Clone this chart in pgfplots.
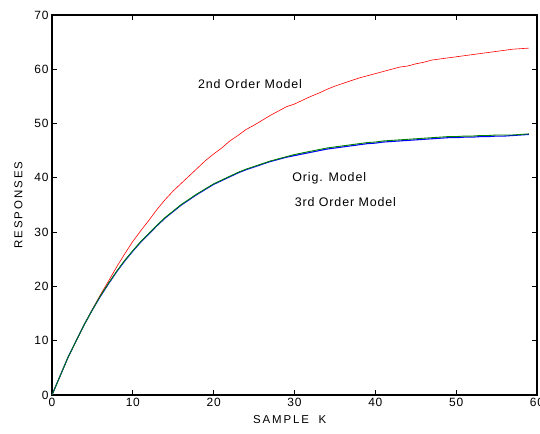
\documentclass[border=0pt]{standalone}
\usepackage{fontspec}
\setmainfont{Liberation Sans}
\newfontfamily\spaced[LetterSpace=7]{Liberation Sans}
\usepackage{pgfplots}
\pgfplotsset{compat=1.18}
\begin{document}
\begin{tikzpicture}
\path[use as bounding box] (-52bp,-39bp) rectangle (488bp,395bp);
\begin{axis}[
  at={(0,0)}, anchor=south west,
  scale only axis, width=485bp, height=380bp,
  xmin=0, xmax=60, ymin=0, ymax=70,
  xtick={0,10,...,60}, ytick={0,10,...,70},
  tick align=inside, major tick length=5bp,
  axis line style={line width=1.4pt},
  tick style={line width=0.8pt, black},
  tick label style={font=\fontsize{12}{14}\selectfont\spaced},
  /pgf/number format/assume math mode=true,
  xlabel={S\,A\,M\,P\,L\,E\ \ \ K}, ylabel={R\,E\,S\,P\,O\,N\,S\,E\,S},
  label style={font=\fontsize{11.5}{13}\selectfont},
  xlabel style={at={(axis description cs:0.49,0)}, anchor=north, yshift=-17bp},
  ylabel style={at={(axis description cs:0,0.5)}, anchor=south, xshift=0bp, yshift=26bp},
  clip=false,
]
\addplot[red, line width=0.6pt] coordinates {
(0,0)(1,3.5)(2,7)(3,10)(4,13)(5,15.8)(6,18.5)(7,21)(8,23.6)(9,26)(10,28.3)
(11,30.3)(12,32.2)(13,34.2)(14,36)(15,37.6)(16,39)(17,40.4)(18,41.8)(19,43.2)(20,44.4)
(21,45.5)(22,46.8)(23,47.8)(24,48.9)(25,49.7)(26,50.6)(27,51.5)(28,52.3)(29,53.1)(30,53.6)
(31,54.3)(32,55)(33,55.6)(34,56.3)(35,56.9)(36,57.4)(37,57.9)(38,58.4)(39,58.8)(40,59.2)
(41,59.6)(42,60)(43,60.4)(44,60.6)(45,61)(46,61.3)(47,61.7)(48,61.9)(49,62.1)(50,62.3)
(51,62.5)(52,62.7)(53,62.9)(54,63.1)(55,63.3)(56,63.5)(57,63.7)(58,63.8)(59,63.9)};
\addplot[blue, line width=1.1pt] coordinates {
(0,0)(1,3.5)(2,7)(3,10)(4,13)(5,15.7)(6,18.2)(7,20.5)(8,22.7)(9,24.7)(10,26.5)
(11,28.2)(12,29.7)(13,31.2)(14,32.6)(15,33.8)(16,35)(17,36)(18,37)(19,37.9)(20,38.8)
(21,39.5)(22,40.2)(23,40.9)(24,41.5)(25,42)(26,42.5)(27,43)(28,43.4)(29,43.8)(30,44.1)
(31,44.4)(32,44.7)(33,45)(34,45.3)(35,45.5)(36,45.7)(37,45.9)(38,46.1)(39,46.3)(40,46.4)
(41,46.6)(42,46.7)(43,46.8)(44,46.9)(45,47)(46,47.1)(47,47.2)(48,47.3)(49,47.4)(50,47.4)
(51,47.5)(52,47.5)(53,47.6)(54,47.6)(55,47.7)(56,47.7)(57,47.8)(58,47.9)(59,48)};
\addplot[green!50!black, line width=0.9pt] coordinates {
(0,0)(1,3.5)(2,7)(3,10)(4,13)(5,15.7)(6,18.3)(7,20.6)(8,22.8)(9,24.8)(10,26.6)
(11,28.3)(12,29.8)(13,31.3)(14,32.7)(15,33.9)(16,35.1)(17,36.1)(18,37.1)(19,38)(20,38.9)
(21,39.6)(22,40.3)(23,41)(24,41.6)(25,42.1)(26,42.6)(27,43.1)(28,43.5)(29,43.9)(30,44.3)
(31,44.6)(32,44.9)(33,45.2)(34,45.5)(35,45.7)(36,45.9)(37,46.1)(38,46.3)(39,46.5)(40,46.6)
(41,46.8)(42,46.9)(43,47)(44,47.1)(45,47.2)(46,47.3)(47,47.4)(48,47.5)(49,47.6)(50,47.6)
(51,47.7)(52,47.7)(53,47.8)(54,47.8)(55,47.9)(56,47.9)(57,47.9)(58,48)(59,48.1)};
\node[font=\fontsize{12.5}{14}\selectfont\spaced] at (axis cs:24.5,57.2) {2nd Order Model};
\node[font=\fontsize{12.5}{14}\selectfont\spaced] at (axis cs:34.3,40) {Orig. Model};
\node[font=\fontsize{12.5}{14}\selectfont\spaced] at (axis cs:36.3,35.5) {3rd Order Model};
\end{axis}
\end{tikzpicture}
\end{document}
